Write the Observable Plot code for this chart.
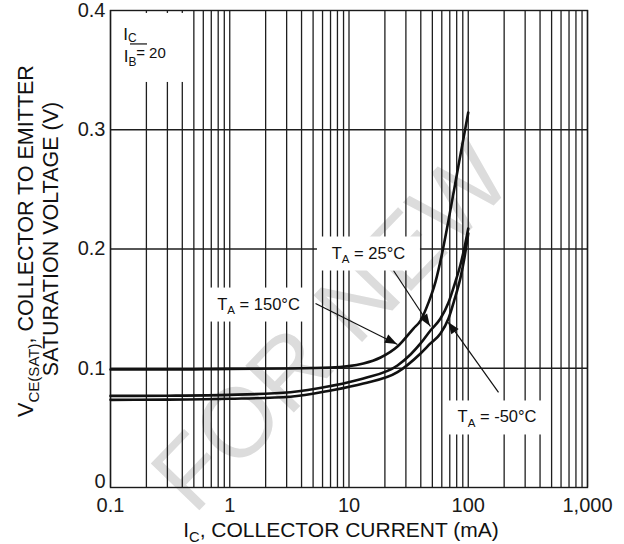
<!DOCTYPE html>
<html><head><meta charset="utf-8">
<script src="https://cdn.jsdelivr.net/npm/d3@7"></script>
<script src="https://cdn.jsdelivr.net/npm/@observablehq/plot@0.6"></script>
<style>
html,body{margin:0;padding:0;background:#fff;}
#chart{width:624px;height:544px;}
</style></head><body><div id="chart"></div>
<script>
// ---- data (collector current in mA, V_CE(sat) in volts) ----
const ic150 = [0.1, 0.3, 1, 3, 7, 13.2, 18.4, 25.5, 34.7, 39.8, 46.4, 53.2, 60.8, 68.3, 82.8, 100];
const v150  = [0.099, 0.099, 0.0995, 0.0998, 0.1006, 0.104, 0.109, 0.1182, 0.1333, 0.140, 0.155, 0.1727, 0.1979, 0.224, 0.270, 0.3145];
const ic25  = [0.1, 0.3, 1, 3.23, 7, 13.2, 25.5, 32.8, 39.8, 48.2, 58.5, 68.3, 76.7, 86.1, 93, 100];
const v25   = [0.0768, 0.077, 0.0777, 0.0799, 0.0851, 0.0914, 0.1023, 0.1115, 0.1208, 0.1317, 0.1417, 0.1551, 0.1702, 0.187, 0.2013, 0.2172];
const icM50 = [0.1, 0.3, 1, 3.23, 7, 13.2, 25.5, 39.8, 48.2, 58.5, 68.3, 76.7, 86.1, 93, 100];
const vM50  = [0.0735, 0.0737, 0.0744, 0.0761, 0.0813, 0.0872, 0.0967, 0.1124, 0.1208, 0.1291, 0.1417, 0.1577, 0.176, 0.1929, 0.213];

const xTicks = [0.1, 1, 10, 100, 1000];
const yTicks = [0.1, 0.2, 0.3, 0.4];
const xGrid = [];
for (const d of [0.1, 1, 10, 100]) for (let k = 1; k <= 9; k++) xGrid.push(+(k * d).toPrecision(3));
xGrid.push(1000);
const yGrid = [0.1, 0.2, 0.3];

// annotations (data coordinates)
const labelRest = [" = 150°C", " = 25°C", " = -50°C"];
const labelX = [1.76, 14.7, 176];
const labelY = [0.153, 0.1958, 0.0583];
const arrowX1 = [5.24, 23.6, 179.4];
const arrowY1 = [0.1543, 0.182, 0.0797];
const arrowX2 = [25.5, 48.2, 68.3];
const arrowY2 = [0.1199, 0.1350, 0.1384];
const ratioPos = [0.225, 0.3686];
const watermarkPos = [7.0, 0.135];

const rows = [];
ic150.forEach((c, i) => rows.push({ic: c, v: v150[i], t: "150"}));
ic25.forEach((c, i) => rows.push({ic: c, v: v25[i], t: "25"}));
icM50.forEach((c, i) => rows.push({ic: c, v: vM50[i], t: "-50"}));
const arrows = arrowX1.map((x, i) => ({x1: x, y1: arrowY1[i], x2: arrowX2[i], y2: arrowY2[i]}));

const FONT = "'Liberation Sans', Arial, Helvetica, sans-serif";
const plot = Plot.plot({
  width: 624, height: 544,
  marginLeft: 110, marginRight: 37, marginTop: 10, marginBottom: 57,
  x: {type: "log", domain: [0.1, 1000]},
  y: {domain: [0, 0.4]},
  style: {fontFamily: FONT, fontSize: "20px", color: "#1a1a1a", background: "white"},
  marks: [
    Plot.ruleX(xGrid, {stroke: "#1e1e1e", strokeWidth: 1.3}),
    Plot.ruleY(yGrid, {stroke: "#1e1e1e", strokeWidth: 1.3}),
    Plot.frame({stroke: "#1a1a1a", strokeWidth: 1.4}),
    Plot.line(rows, {x: "ic", y: "v", z: "t", stroke: "#111", strokeWidth: 2.6, curve: "monotone-x"}),
    Plot.link(arrows, {x1: "x1", y1: "y1", x2: "x2", y2: "y2", stroke: "#111", strokeWidth: 1.2}),
    Plot.axisX({ticks: xTicks, tickSize: 0, tickPadding: 10, tickFormat: d3.format(","), label: null}),
    Plot.axisY({ticks: yTicks, tickSize: 0, tickPadding: 5, tickFormat: d3.format(".1f"), label: null}),
    Plot.text([0], {y: d => d, frameAnchor: "left", text: d => "0", textAnchor: "end", dx: -5, dy: -6, fontSize: 20})
  ]
});
document.getElementById("chart").appendChild(plot);

const svg = d3.select(plot);
const sx = plot.scale("x"), sy = plot.scale("y");
const X = d3.scaleLog().domain(sx.domain).range(sx.range);
const Y = d3.scaleLinear().domain(sy.domain).range(sy.range);

// watermark behind everything
svg.insert("text", "g")
  .attr("transform", `translate(${X(watermarkPos[0])},${Y(watermarkPos[1])}) rotate(-46)`)
  .attr("text-anchor", "middle").attr("dominant-baseline", "central")
  .attr("font-family", FONT).attr("font-size", 98).attr("fill", "#dcdcdc")
  .text("FOR NEW");

function subText(t, main, sub, rest, fs, shift) {
  const s = shift == null ? fs * 0.3 : shift;
  t.append("tspan").text(main);
  t.append("tspan").attr("font-size", fs * 0.7).attr("dy", s).text(sub);
  if (rest) t.append("tspan").attr("dy", -s).text(rest);
}

// arrow heads
arrows.forEach(a => {
  const x1 = X(a.x1), y1 = Y(a.y1), x2 = X(a.x2), y2 = Y(a.y2);
  const ang = Math.atan2(y2 - y1, x2 - x1);
  const L = 12, W = 4.5;
  const bx = x2 - L * Math.cos(ang), by = y2 - L * Math.sin(ang);
  const px = -Math.sin(ang) * W, py = Math.cos(ang) * W;
  svg.append("polygon")
    .attr("points", `${x2},${y2} ${bx + px},${by + py} ${bx - px},${by - py}`)
    .attr("fill", "#111");
});

// temperature labels with white boxes
const boxW = [107, 103, 100], boxH = 34;
labelRest.forEach((r, i) => {
  const cx = X(labelX[i]), cy = Y(labelY[i]);
  svg.append("rect").attr("x", cx - boxW[i] / 2).attr("y", cy - boxH / 2)
    .attr("width", boxW[i]).attr("height", boxH).attr("fill", "white");
  const t = svg.append("text").attr("x", cx).attr("y", cy + 5)
    .attr("text-anchor", "middle").attr("font-family", FONT)
    .attr("font-size", 16.5).attr("fill", "#111");
  subText(t, "T", "A", r, 16.5);
});

// IC / IB = 20
{
  const cx = X(ratioPos[0]), cy = Y(ratioPos[1]);
  svg.append("rect").attr("x", cx - 40).attr("y", cy - 34.5).attr("width", 80).attr("height", 69).attr("fill", "white");
  const g = svg.append("g").attr("font-family", FONT).attr("fill", "#111");
  const t1 = g.append("text").attr("x", cx - 22).attr("y", cy - 7).attr("font-size", 17);
  subText(t1, "I", "C", "", 17, 2);
  g.append("line").attr("x1", cx - 22).attr("x2", cx - 5).attr("y1", cy - 3.5).attr("y2", cy - 3.5)
    .attr("stroke", "#111").attr("stroke-width", 1.2);
  const t2 = g.append("text").attr("x", cx - 22).attr("y", cy + 15).attr("font-size", 17);
  subText(t2, "I", "B", "", 17, 4);
  g.append("text").attr("x", cx - 1).attr("y", cy + 10.5).attr("font-size", 15).text("= 20");
}

// axis titles
{
  const fs = 21;
  const tx = svg.append("text").attr("x", 341).attr("y", 537).attr("text-anchor", "middle")
    .attr("font-family", FONT).attr("font-size", fs).attr("fill", "#111");
  subText(tx, "I", "C", ", COLLECTOR CURRENT (mA)", fs, 5);
  const ty1 = svg.append("text").attr("transform", "translate(33,241) rotate(-90)").attr("text-anchor", "middle")
    .attr("font-family", FONT).attr("font-size", 21.5).attr("fill", "#111");
  subText(ty1, "V", "CE(SAT)", ", COLLECTOR TO EMITTER", 21.5);
  svg.append("text").attr("transform", "translate(58,239) rotate(-90)").attr("text-anchor", "middle")
    .attr("font-family", FONT).attr("font-size", 21.5).attr("fill", "#111")
    .text("SATURATION VOLTAGE (V)");
}
</script></body></html>
